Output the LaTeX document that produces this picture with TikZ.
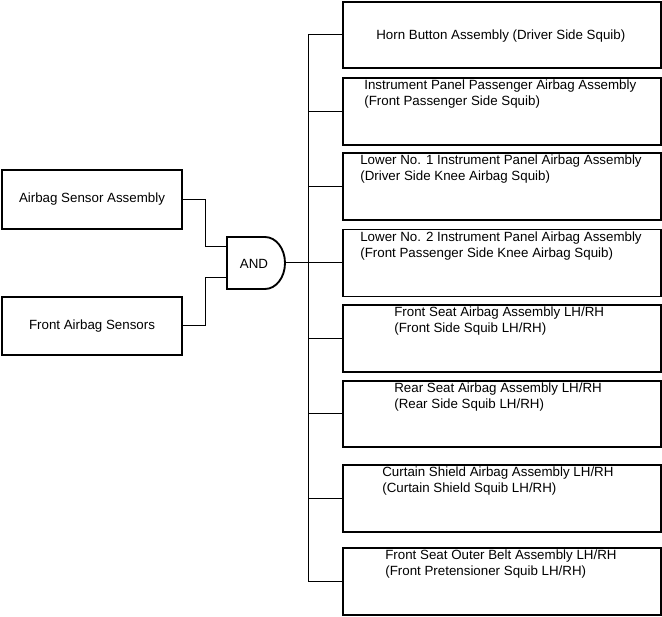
\documentclass[tikz,border=0pt]{standalone}
\usepackage{fontspec}
\setmainfont{Liberation Sans}
\usepackage{tikz}
\usetikzlibrary{calc}

\tikzset{
  sensorbox/.style={draw, line width=1.4pt, minimum width=135pt, inner sep=0pt},
  squib/.style={draw, line width=1.4pt, minimum width=238.5pt, inner sep=0pt},
  squibtext/.style={anchor=north west, inner sep=0pt, align=left},
  wire/.style={line width=0.75pt}
}

\begin{document}
\begin{tikzpicture}[x=0.75pt, y=-0.75pt, font=\fontsize{10}{11.8}\selectfont]
    \useasboundingbox (0,0) rectangle (662,617);

    % Draw the input boxes
    \node[sensorbox, minimum height=44.25pt] (sensor) at (92,199.5) {Airbag Sensor Assembly};
    \node[sensorbox, minimum height=43.5pt] (frontsensor) at (92,326) {Front Airbag Sensors};

    % Draw the AND gate
    \draw[line width=1.4pt] (227,237) -- (265,237)
        .. controls (276,237) and (285,248.6) .. (285,263)
        .. controls (285,277.4) and (276,289) .. (265,289) -- (227,289) -- cycle;
    \node (gate) at (254,264) {AND};
    \coordinate (in1) at (227,247);
    \coordinate (in2) at (227,278);
    \coordinate (out) at (285,263);

    % Draw the squib boxes
    \node[squib, minimum height=49.5pt] (horn) at (502,35) {};
    \node[squib, minimum height=50.25pt] (ipp) at (502,111.5) {};
    \node[squib, minimum height=50.25pt] (knee1) at (502,186.5) {};
    \node[squib, minimum height=50.25pt] (knee2) at (502,263) {};
    \node[squib, minimum height=50.25pt] (frontseat) at (502,338.5) {};
    \node[squib, minimum height=49.5pt] (rearseat) at (502,414) {};
    \node[squib, minimum height=50.25pt] (curtain) at (502,498.5) {};
    \node[squib, minimum height=50.25pt] (belt) at (502,581.5) {};

    % Add labels
    \node[anchor=west, inner sep=0pt] at ($(horn.west)+(34,1)$) {Horn Button Assembly (Driver Side Squib)};
    \node[squibtext] at ($(ipp.north west)+(22,3)$) {Instrument Panel Passenger Airbag Assembly\\(Front Passenger Side Squib)};
    \node[squibtext] at ($(knee1.north west)+(18,3)$) {Lower No. 1 Instrument Panel Airbag Assembly\\(Driver Side Knee Airbag Squib)};
    \node[squibtext] at ($(knee2.north west)+(18,3)$) {Lower No. 2 Instrument Panel Airbag Assembly\\(Front Passenger Side Knee Airbag Squib)};
    \node[squibtext] at ($(frontseat.north west)+(52,3)$) {Front Seat Airbag Assembly LH/RH\\(Front Side Squib LH/RH)};
    \node[squibtext] at ($(rearseat.north west)+(52,3)$) {Rear Seat Airbag Assembly LH/RH\\(Rear Side Squib LH/RH)};
    \node[squibtext] at ($(curtain.north west)+(40,3)$) {Curtain Shield Airbag Assembly LH/RH\\(Curtain Shield Squib LH/RH)};
    \node[squibtext] at ($(belt.north west)+(43,3)$) {Front Seat Outer Belt Assembly LH/RH\\(Front Pretensioner Squib LH/RH)};

    % Draw wires into the gate
    \draw[wire] (sensor.east) -- ++(23,0) |- (in1);
    \draw[wire] (frontsensor.east) -- ++(23,0) |- (in2);

    % Draw the output bus
    \draw[wire] (out) -- (knee2.west);
    \draw[wire] (horn.west) -- ++(-34,0) |- (belt.west);
    \foreach \sq in {ipp, knee1, frontseat, rearseat, curtain}
        \draw[wire] (\sq.west) -- ++(-34,0);
\end{tikzpicture}
\end{document}
